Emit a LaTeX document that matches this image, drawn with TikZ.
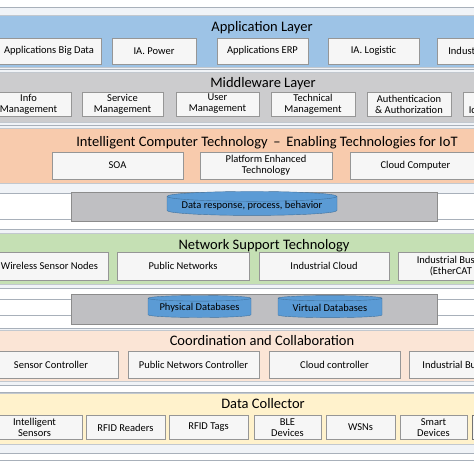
\documentclass[tikz,border=0pt]{standalone}
\usepackage{fontspec}
\setmainfont{Carlito}
\usetikzlibrary{shapes.geometric}
\definecolor{linegray}{RGB}{168,176,186}
\definecolor{palebg}{RGB}{240,243,247}
\definecolor{appblue}{RGB}{157,195,230}
\definecolor{midgray}{RGB}{204,204,206}
\definecolor{ictorange}{RGB}{248,203,173}
\definecolor{netgreen}{RGB}{197,224,180}
\definecolor{coopeach}{RGB}{251,229,214}
\definecolor{dcyellow}{RGB}{255,242,204}
\definecolor{boxfill}{RGB}{246,246,246}
\definecolor{boxedge}{RGB}{150,150,150}
\definecolor{dbgray}{RGB}{191,191,194}
\definecolor{dbblue}{RGB}{91,155,213}
\definecolor{dbedge}{RGB}{65,113,156}

\begin{document}
\begin{tikzpicture}[x=1pt, y=-1pt,
    frame/.style={fill=palebg, draw=linegray, line width=0.7pt},
    band/.style={draw=linegray!70, line width=0.4pt},
    title/.style={font=\fontsize{14.5}{16}\selectfont, inner sep=0pt},
    layerbox/.style={draw=boxedge, fill=boxfill, line width=0.6pt, inner sep=0pt,
        align=center, font=\fontsize{10.5}{11}\selectfont},
    dbpanel/.style={draw=black!45, fill=dbgray, line width=0.6pt},
    db/.style={cylinder, shape border rotate=90, aspect=0.07, draw=dbedge, fill=dbblue,
        inner sep=0pt, font=\fontsize{10.5}{11}\selectfont}]

  \useasboundingbox (0,0) rectangle (474,474);
  \clip (0,0) rectangle (474,474);
  \fill[white] (0,0) rectangle (474,474);

  % frames and separator lines
  \draw[frame] (-5,7) rectangle (480,69.5);
  \draw[frame] (-5,69.5) rectangle (480,125);
  \draw[frame] (-5,125) rectangle (480,193.5);
  \draw[frame] (-5,229) rectangle (480,288);
  \draw[frame] (-5,328) rectangle (480,385);
  \draw[frame] (-5,392) rectangle (480,453);
  \draw[linegray, line width=0.7pt] (-5,219) -- (480,219);
  \draw[linegray, line width=0.7pt] (-5,299) -- (480,299);
  \draw[linegray, line width=0.7pt] (-5,315) -- (480,315);
  \draw[linegray, line width=0.7pt] (-5,460) -- (480,460);

  % colored layers
  \filldraw[band, fill=appblue] (-5,15) rectangle (480,67);
  \filldraw[band, fill=midgray] (-5,72) rectangle (480,122);
  \filldraw[band, fill=ictorange] (-5,128) rectangle (480,183);
  \filldraw[band, fill=netgreen] (-5,233) rectangle (480,284);
  \filldraw[band, fill=coopeach] (-5,330) rectangle (480,381);
  \filldraw[band, fill=dcyellow] (-5,393) rectangle (480,444);

  % Application Layer
  \node[title] (apptitle) at (262,28) {Application Layer};
  \begin{scope}[every node/.append style={minimum height=26pt}]
    \node[layerbox, minimum width=104pt] (bigdata) at (49,51) {Applications Big Data};
    \node[layerbox, minimum width=84pt] (power) at (154,51) {IA. Power};
    \node[layerbox, minimum width=91pt] (erp) at (262.5,51) {Applications ERP};
    \node[layerbox, minimum width=91pt] (logistic) at (373.5,51) {IA. Logistic};
    \node[layerbox, minimum width=116pt] (indus) at (495,51) {Industrial Automation};
  \end{scope}

  % Middleware Layer
  \node[title] (midtitle) at (263,84) {Middleware Layer};
  \begin{scope}[every node/.append style={minimum height=24pt}]
    \node[layerbox, minimum width=85pt] (info) at (28.5,104) {Info\\Management};
    \node[layerbox, minimum width=81pt] (service) at (122.5,104) {Service\\Management};
    \node[layerbox, minimum width=83pt] (user) at (217.5,104) {User\\Management};
    \node[layerbox, minimum width=84pt] (technical) at (313,104) {Technical\\Management};
    \node[layerbox, minimum width=84pt] (auth) at (409,104) {Authenticacion\\\& Authorization};
    \node[layerbox, minimum width=68pt] (ident) at (497,104) {Device\\Identification};
  \end{scope}

  % Intelligent Computer Technology
  \node[title] (icttitle) at (267,143) {Intelligent Computer Technology \,--\, Enabling Technologies for IoT};
  \begin{scope}[every node/.append style={minimum height=27pt}]
    \node[layerbox, minimum width=131pt] (soa) at (117.5,165.5) {SOA};
    \node[layerbox, minimum width=132pt] (platform) at (266,165.5) {Platform Enhanced\\Technology};
    \node[layerbox, minimum width=131pt] (cloudcomp) at (415.5,165.5) {Cloud Computer};
  \end{scope}

  % data response panel
  \draw[dbpanel] (71,192) rectangle (437,221);
  \node[db, minimum width=170pt, minimum height=22pt] (dataresp) at (252,206) {Data response, process, behavior};

  % Network Support Technology
  \begin{scope}[every node/.append style={minimum height=28pt}]
    \node[layerbox, minimum width=117pt] (wireless) at (49.5,266) {Wireless Sensor Nodes};
    \node[layerbox, minimum width=132pt] (public) at (183,266) {Public Networks};
    \node[layerbox, minimum width=130pt] (indcloud) at (324,266) {Industrial Cloud};
    \node[layerbox, minimum width=140pt, anchor=west, align=left, inner xsep=11pt] (indbus) at (398,266)
      {Industrial Bus -- Profibus\\\hspace*{13pt}(EtherCAT -- Profinet)};
  \end{scope}
  \node[title] (nettitle) at (264,246) {Network Support Technology};

  % database panel
  \draw[dbpanel] (71,294) rectangle (437,324);
  \node[db, minimum width=103pt, minimum height=22pt] (physdb) at (199.5,308) {Physical Databases};
  \node[db, minimum width=104pt, minimum height=22pt] (virtdb) at (330,308) {Virtual Databases};

  % Coordination and Collaboration
  \node[title] (cooptitle) at (262,341) {Coordination and Collaboration};
  \begin{scope}[every node/.append style={minimum height=27pt}]
    \node[layerbox, minimum width=134pt] (sensorctl) at (51,364.5) {Sensor Controller};
    \node[layerbox, minimum width=131pt] (publicctl) at (193.5,364.5) {Public Networs Controller};
    \node[layerbox, minimum width=131pt] (cloudctl) at (334.5,364.5) {Cloud controller};
    \node[layerbox, minimum width=130pt] (busctl) at (474,364.5) {Industrial Bus Controller};
  \end{scope}

  % Data Collector
  \node[title] (dctitle) at (263,404) {Data Collector};
  \begin{scope}[every node/.append style={minimum height=24pt}]
    \node[layerbox, minimum width=95pt] (sensors) at (34.5,427.5) {Intelligent\\Sensors};
    \node[layerbox, minimum width=79pt] (readers) at (125.5,427.5) {RFID Readers};
    \node[layerbox, minimum width=79pt] (tags) at (208.5,427.5) {RFID Tags};
    \node[layerbox, minimum width=67pt] (ble) at (287.5,427.5) {BLE\\Devices};
    \node[layerbox, minimum width=69pt] (wsns) at (360.5,427.5) {WSNs};
    \node[layerbox, minimum width=67pt] (smart) at (433.5,427.5) {Smart\\Devices};
    \node[layerbox, draw=black!55, minimum width=68pt] (gateway) at (506,427.5) {};
  \end{scope}
\end{tikzpicture}
\end{document}
